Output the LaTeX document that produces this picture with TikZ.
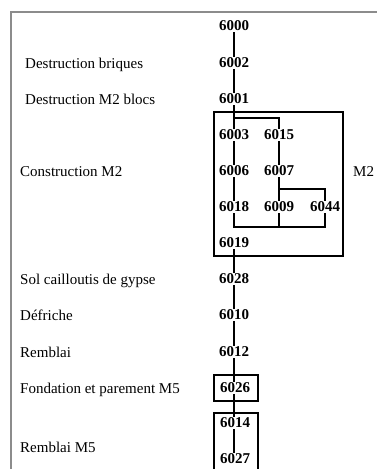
\documentclass[tikz,border=0pt]{standalone}
\usepackage{fontspec}
\setmainfont{Liberation Serif}
\begin{document}
\begin{tikzpicture}[x=1pt,y=-1pt,
	num/.style={font=\fontsize{15}{18}\selectfont\bfseries, inner sep=1pt},
	lab/.style={font=\fontsize{15}{18}\selectfont, anchor=west, inner sep=0pt, text height=10pt, text depth=0pt},
	link/.style={line width=2pt},
	frame/.style={line width=1.2pt}]
		\useasboundingbox (0,0) rectangle (376,469);
		\draw[color=black!45, line width=2pt] (11,480) -- (11,12) -- (390,12);
		% stratigraphic units
		\node[num] (n6000) at (234,26) {6000};
		\node[num] (n6002) at (234,63) {6002};
		\node[num] (n6001) at (234,99) {6001};
		\node[num] (n6003) at (234,135) {6003};
		\node[num] (n6015) at (279,135) {6015};
		\node[num] (n6006) at (234,171) {6006};
		\node[num] (n6007) at (279,171) {6007};
		\node[num] (n6018) at (234,207) {6018};
		\node[num] (n6009) at (279,207) {6009};
		\node[num] (n6044) at (325,207) {6044};
		\node[num] (n6019) at (234,243) {6019};
		\node[num] (n6028) at (234,279) {6028};
		\node[num] (n6010) at (234,315) {6010};
		\node[num] (n6012) at (234,352) {6012};
		\node[num] (n6026) at (235,388) {6026};
		\node[num] (n6014) at (235,423) {6014};
		\node[num] (n6027) at (235,459) {6027};
		% phases
		\node[lab] (destBriques) at (25,63) {Destruction briques};
		\node[lab] (destBlocs) at (25,99) {Destruction M2 blocs};
		\node[lab] (constM2) at (20,171) {Construction M2};
		\node[lab] (sol) at (20,279) {Sol cailloutis de gypse};
		\node[lab] (defriche) at (20,315) {Défriche};
		\node[lab] (remblai) at (20,352) {Remblai};
		\node[lab] (fondation) at (20,388) {Fondation et parement M5};
		\node[lab] (remblaiM5) at (20,447) {Remblai M5};
		\node[lab] (m2) at (353,171) {M2};
		% groups
		\draw[frame] (214,112) rectangle (343,256);
		\draw[frame] (214,375) rectangle (258,401);
		\draw[frame] (214,413) rectangle (258,480);
		% links
		\draw[link] (n6000) -- (n6002);
		\draw[link] (n6002) -- (n6001);
		\draw[link] (n6001) -- (n6003);
		\coordinate (fork1) at (234,118);
		\draw[link] (fork1) -| (n6015);
		\draw[link] (n6003) -- (n6006);
		\draw[link] (n6006) -- (n6018);
		\draw[link] (n6015) -- (n6007);
		\draw[link] (n6007) -- (n6009);
		\coordinate (fork2) at (279,189);
		\draw[link] (fork2) -| (n6044);
		\coordinate (join) at (234,227);
		\draw[link] (n6018) -- (join) -- (join -| n6044) -- (n6044);
		\draw[link] (n6009) -- (n6009 |- join);
		\draw[link] (n6019) -- (n6028);
		\draw[link] (n6028) -- (n6010);
		\draw[link] (n6010) -- (n6012);
		\draw[link] (n6012) -- (n6026.north -| n6012);
		\draw[link] (n6026.south -| n6012) -- (n6014.north -| n6012);
		\draw[link] (n6014.south -| n6012) -- (n6027.north -| n6012);
	\end{tikzpicture}
\end{document}
